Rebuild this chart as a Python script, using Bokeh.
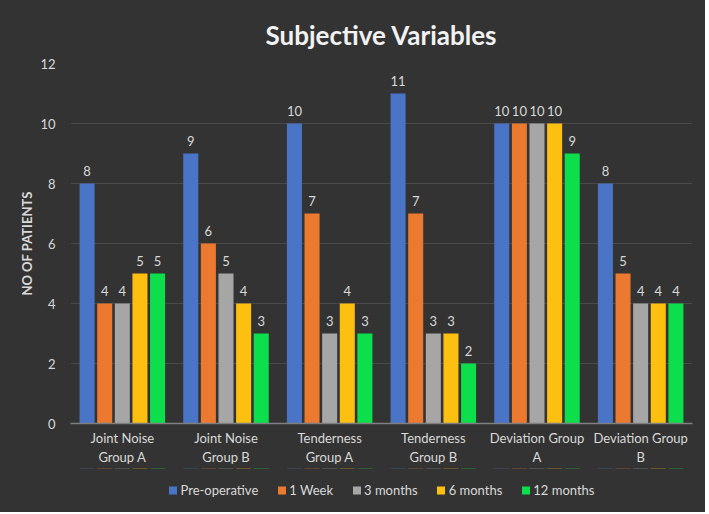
from bokeh.plotting import figure
from bokeh.layouts import column
from bokeh.models import ColumnDataSource, FactorRange, Legend, LegendItem, Range1d, FixedTicker
from bokeh.core.properties import value
from bokeh.transform import dodge
from bokeh.embed import file_html
from bokeh.resources import INLINE

categories = ["Joint Noise\nGroup A", "Joint Noise\nGroup B", "Tenderness\nGroup A",
              "Tenderness\nGroup B", "Deviation Group\nA", "Deviation Group\nB"]
series_names = ["Pre-operative", "1 Week", "3 months", "6 months", "12 months"]
pre_operative = [8, 9, 10, 11, 10, 8]
one_week = [4, 6, 7, 7, 10, 5]
three_months = [4, 5, 3, 3, 10, 4]
six_months = [5, 4, 4, 3, 10, 4]
twelve_months = [5, 3, 3, 2, 9, 4]
y_ticks = [0, 2, 4, 6, 8, 10, 12]

colors = ["#4A74C6", "#EB7A30", "#A6A6A6", "#FDC010", "#0CDE4C"]
series = [pre_operative, one_week, three_months, six_months, twelve_months]
keys = ["s0", "s1", "s2", "s3", "s4"]

data = {"cat": categories}
for k, s in zip(keys, series):
    data[k] = s
    data[k + "_lbl"] = [str(v) for v in s]
source = ColumnDataSource(data)

FONT = "Lato"
TXT = "#D9D9D9"
BG = "#333333"

p = figure(x_range=FactorRange(*categories), y_range=Range1d(0, 12),
           frame_width=622, frame_height=360, output_backend="svg", toolbar_location=None,
           title="Subjective Variables")
p.min_border_left = 70
p.min_border_right = 13
p.min_border_top = 63
p.min_border_bottom = 45
p.background_fill_alpha = 0
p.border_fill_color = BG
p.outline_line_color = None

p.title.text_font = FONT
p.title.text_font_size = "26px"
p.title.text_font_style = "bold"
p.title.text_color = "#F2F2F2"
p.title.align = "center"
p.title.offset = 0
p.title.standoff = 26
p.title.text_line_height = 0.8

offsets = [-0.34, -0.17, 0.0, 0.17, 0.34]
for k, c, off in zip(keys, colors, offsets):
    p.vbar(x=dodge("cat", off, range=p.x_range), top=k, width=0.145, source=source,
           fill_color=c, line_color=None)
    p.text(x=dodge("cat", off, range=p.x_range), y=k, text=k + "_lbl", source=source,
           text_align="center", text_baseline="bottom", y_offset=-8,
           text_font_size="13px", text_color=TXT, text_font=value(FONT))

p.yaxis.ticker = FixedTicker(ticks=y_ticks)
p.yaxis.axis_label = "NO OF PATIENTS"
p.yaxis.axis_label_text_font = FONT
p.yaxis.axis_label_text_font_style = "bold"
p.yaxis.axis_label_text_font_size = "13px"
p.yaxis.axis_label_text_color = TXT
p.yaxis.axis_label_standoff = 2
p.yaxis.major_label_text_color = TXT
p.yaxis.major_label_text_font = FONT
p.yaxis.major_label_text_font_size = "13px"
p.yaxis.major_label_standoff = 15
p.yaxis.major_tick_out = 0
p.yaxis.axis_line_color = None
p.yaxis.major_tick_line_color = None
p.yaxis.minor_tick_line_color = None

p.xaxis.axis_line_color = "#808080"
p.xaxis.axis_line_width = 1.5
p.xaxis.major_tick_out = 0
p.xaxis.major_tick_line_color = None
p.xaxis.minor_tick_line_color = None
p.xaxis.major_label_text_color = TXT
p.xaxis.major_label_text_font = FONT
p.xaxis.major_label_text_font_size = "13px"
p.xaxis.major_label_standoff = 6

p.xgrid.grid_line_color = None
p.ygrid.grid_line_color = "#4A4A4A"
p.ygrid.grid_line_width = 1

# legend strip (its bars lie outside its visible range; only the legend shows)
lg = figure(x_range=FactorRange(*categories), y_range=Range1d(-100, -99),
            width=705, height=44, output_backend="svg", toolbar_location=None)
lg.min_border_left = 0
lg.min_border_right = 0
lg.min_border_top = 0
lg.min_border_bottom = 0
lg.background_fill_alpha = 0
lg.border_fill_color = BG
lg.outline_line_color = None
lg.axis.visible = False
lg.grid.visible = False
items = []
for k, c, off, name in zip(keys, colors, offsets, series_names):
    r = lg.vbar(x=dodge("cat", off, range=lg.x_range), top=k, width=0.145, source=source,
                fill_color=c, line_color=None)
    items.append(LegendItem(label=name, renderers=[r]))
legend = Legend(items=items, orientation="horizontal", location="center")
legend.background_fill_alpha = 0
legend.border_line_color = None
legend.label_text_color = TXT
legend.label_text_font = FONT
legend.label_text_font_size = "13px"
legend.glyph_width = 10
legend.glyph_height = 10
legend.label_height = 14
legend.label_standoff = 3
legend.spacing = 18
legend.padding = 2
legend.margin = 0
lg.add_layout(legend, "center")

layout = column(p, lg, spacing=0, styles={"background-color": BG})
open("out.html", "w").write(file_html(layout, INLINE))
